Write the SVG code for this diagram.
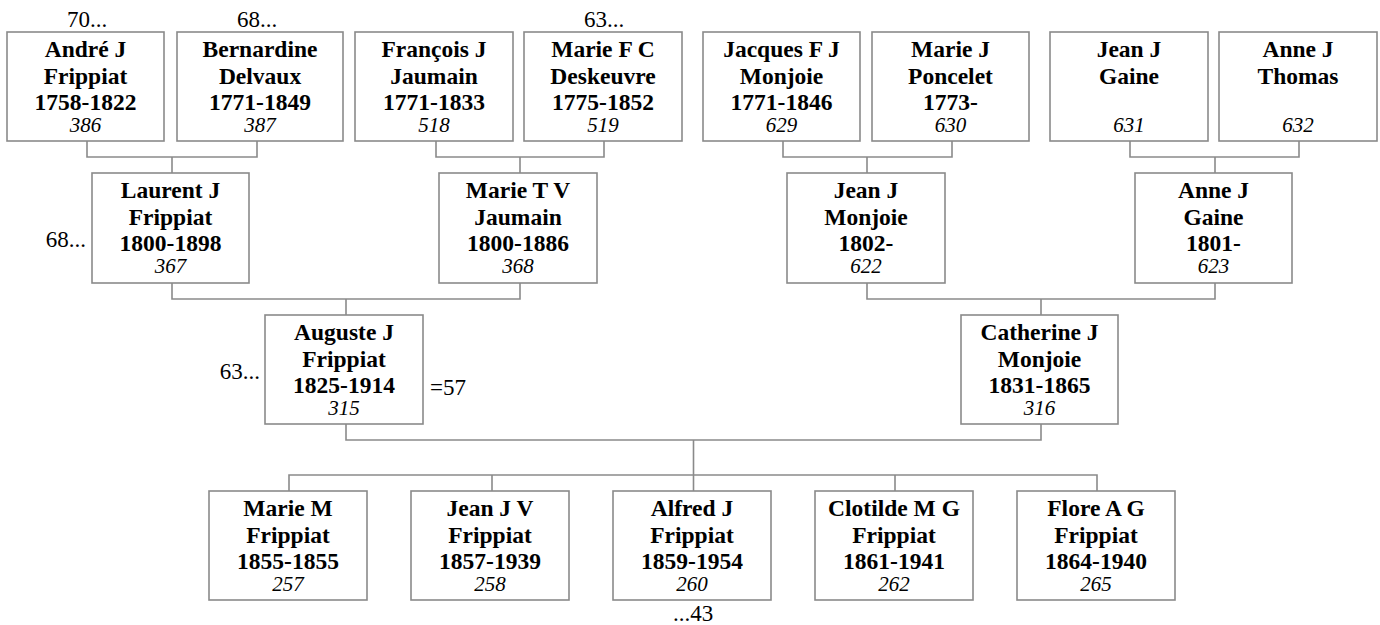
<svg xmlns="http://www.w3.org/2000/svg" width="1380" height="625" viewBox="0 0 1380 625">
<style>
rect.box{fill:#fff;stroke:#8a8a8a;stroke-width:1.6}
.c{fill:none;stroke:#8a8a8a;stroke-width:1.6}
text{font-family:"Liberation Serif","Times New Roman",serif;fill:#000}
.n{font-weight:bold;font-size:23.5px;text-anchor:middle}
.i{font-style:italic;font-size:21px;text-anchor:middle}
.l{font-size:23px}
</style>
<rect width="1380" height="625" fill="#fff"/>
<g id="connectors">
<path class="c" d="M87,141V157H257V141M172,157V173"/>
<path class="c" d="M436,141V157H604V141M520,157V173"/>
<path class="c" d="M783,141V157H952V141M867,157V173"/>
<path class="c" d="M1130,141V157H1299V141M1215,157V173"/>
<path class="c" d="M172,283V299H520V283M346,299V315"/>
<path class="c" d="M867,283V299H1215V283M1041,299V315"/>
<path class="c" d="M346,424V440H1041V424M693.5,440V491"/>
<path class="c" d="M289,491V475H1097V491M492,475V491M895,475V491"/>
</g>
<g id="p386"><rect class="box" x="7" y="32" width="157" height="109"/><text class="n" x="85.5" y="57">André J</text><text class="n" x="85.5" y="83.5">Frippiat</text><text class="n" x="85.5" y="110">1758-1822</text><text class="i" x="85.5" y="132">386</text></g>
<g id="p387"><rect class="box" x="177" y="32" width="166" height="109"/><text class="n" x="260" y="57">Bernardine</text><text class="n" x="260" y="83.5">Delvaux</text><text class="n" x="260" y="110">1771-1849</text><text class="i" x="260" y="132">387</text></g>
<g id="p518"><rect class="box" x="355" y="32" width="158" height="109"/><text class="n" x="434" y="57">François J</text><text class="n" x="434" y="83.5">Jaumain</text><text class="n" x="434" y="110">1771-1833</text><text class="i" x="434" y="132">518</text></g>
<g id="p519"><rect class="box" x="524" y="32" width="158" height="109"/><text class="n" x="603" y="57">Marie F C</text><text class="n" x="603" y="83.5">Deskeuvre</text><text class="n" x="603" y="110">1775-1852</text><text class="i" x="603" y="132">519</text></g>
<g id="p629"><rect class="box" x="703" y="32" width="157" height="109"/><text class="n" x="781.5" y="57">Jacques F J</text><text class="n" x="781.5" y="83.5">Monjoie</text><text class="n" x="781.5" y="110">1771-1846</text><text class="i" x="781.5" y="132">629</text></g>
<g id="p630"><rect class="box" x="872" y="32" width="157" height="109"/><text class="n" x="950.5" y="57">Marie J</text><text class="n" x="950.5" y="83.5">Poncelet</text><text class="n" x="950.5" y="110">1773-</text><text class="i" x="950.5" y="132">630</text></g>
<g id="p631"><rect class="box" x="1050" y="32" width="158" height="109"/><text class="n" x="1129" y="57">Jean J</text><text class="n" x="1129" y="83.5">Gaine</text><text class="i" x="1129" y="132">631</text></g>
<g id="p632"><rect class="box" x="1219" y="32" width="158" height="109"/><text class="n" x="1298" y="57">Anne J</text><text class="n" x="1298" y="83.5">Thomas</text><text class="i" x="1298" y="132">632</text></g>
<g id="p367"><rect class="box" x="92" y="173" width="157" height="110"/><text class="n" x="170.5" y="198">Laurent J</text><text class="n" x="170.5" y="224.5">Frippiat</text><text class="n" x="170.5" y="251">1800-1898</text><text class="i" x="170.5" y="273">367</text></g>
<g id="p368"><rect class="box" x="439" y="173" width="158" height="110"/><text class="n" x="518" y="198">Marie T V</text><text class="n" x="518" y="224.5">Jaumain</text><text class="n" x="518" y="251">1800-1886</text><text class="i" x="518" y="273">368</text></g>
<g id="p622"><rect class="box" x="787" y="173" width="158" height="110"/><text class="n" x="866" y="198">Jean J</text><text class="n" x="866" y="224.5">Monjoie</text><text class="n" x="866" y="251">1802-</text><text class="i" x="866" y="273">622</text></g>
<g id="p623"><rect class="box" x="1135" y="173" width="157" height="110"/><text class="n" x="1213.5" y="198">Anne J</text><text class="n" x="1213.5" y="224.5">Gaine</text><text class="n" x="1213.5" y="251">1801-</text><text class="i" x="1213.5" y="273">623</text></g>
<g id="p315"><rect class="box" x="265" y="315" width="158" height="109"/><text class="n" x="344" y="340">Auguste J</text><text class="n" x="344" y="366.5">Frippiat</text><text class="n" x="344" y="393">1825-1914</text><text class="i" x="344" y="415">315</text></g>
<g id="p316"><rect class="box" x="961" y="315" width="157" height="109"/><text class="n" x="1039.5" y="340">Catherine J</text><text class="n" x="1039.5" y="366.5">Monjoie</text><text class="n" x="1039.5" y="393">1831-1865</text><text class="i" x="1039.5" y="415">316</text></g>
<g id="p257"><rect class="box" x="209" y="491" width="158" height="109"/><text class="n" x="288" y="516">Marie M</text><text class="n" x="288" y="542.5">Frippiat</text><text class="n" x="288" y="569">1855-1855</text><text class="i" x="288" y="591">257</text></g>
<g id="p258"><rect class="box" x="411" y="491" width="158" height="109"/><text class="n" x="490" y="516">Jean J V</text><text class="n" x="490" y="542.5">Frippiat</text><text class="n" x="490" y="569">1857-1939</text><text class="i" x="490" y="591">258</text></g>
<g id="p260"><rect class="box" x="613" y="491" width="158" height="109"/><text class="n" x="692" y="516">Alfred J</text><text class="n" x="692" y="542.5">Frippiat</text><text class="n" x="692" y="569">1859-1954</text><text class="i" x="692" y="591">260</text></g>
<g id="p262"><rect class="box" x="815" y="491" width="158" height="109"/><text class="n" x="894" y="516">Clotilde M G</text><text class="n" x="894" y="542.5">Frippiat</text><text class="n" x="894" y="569">1861-1941</text><text class="i" x="894" y="591">262</text></g>
<g id="p265"><rect class="box" x="1017" y="491" width="158" height="109"/><text class="n" x="1096" y="516">Flore A G</text><text class="n" x="1096" y="542.5">Frippiat</text><text class="n" x="1096" y="569">1864-1940</text><text class="i" x="1096" y="591">265</text></g>
<g id="labels">
<text class="l" x="87" y="27" text-anchor="middle">70...</text>
<text class="l" x="257" y="27" text-anchor="middle">68...</text>
<text class="l" x="604" y="27" text-anchor="middle">63...</text>
<text class="l" x="86" y="247" text-anchor="end">68...</text>
<text class="l" x="260" y="379" text-anchor="end">63...</text>
<text class="l" x="430" y="395">=57</text>
<text class="l" x="693" y="621" text-anchor="middle">...43</text>
</g>
</svg>
